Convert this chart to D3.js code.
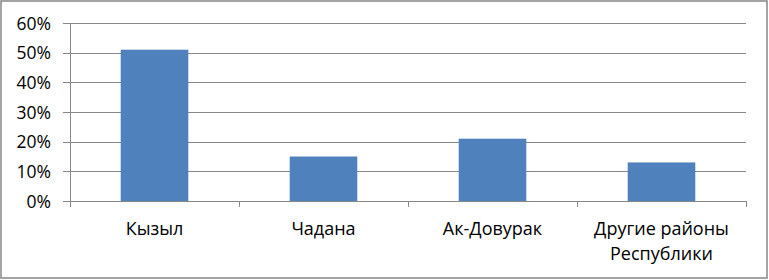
<!DOCTYPE html>
<html lang="ru">
<head>
    <meta charset="UTF-8">
    <script src="https://cdn.jsdelivr.net/npm/d3@7"></script>
    <style>
        body { margin: 0; background: #fff; }
        text { font-family: "Open Sans", "DejaVu Sans", sans-serif; fill: #000; }
    </style>
</head>
<body>
    <script>
        var categories = ["Кызыл", "Чадана", "Ак-Довурак", "Другие районы\nРеспублики"];
        var values = [0.51, 0.15, 0.21, 0.13];
        var yTicks = [0, 0.1, 0.2, 0.3, 0.4, 0.5, 0.6];

        var width = 769, height = 280;
        var margin = {top: 23, right: 23, bottom: 79, left: 70};

        var svg = d3.select("body").append("svg")
            .attr("width", width)
            .attr("height", height);

        svg.append("rect")
            .attr("x", 1).attr("y", 1)
            .attr("width", 766).attr("height", 277)
            .attr("fill", "#fff")
            .attr("stroke", "#868686")
            .attr("stroke-width", 1.5);

        var x = d3.scaleBand()
            .domain(categories)
            .range([margin.left, width - margin.right])
            .paddingInner(0.6)
            .paddingOuter(0.3);

        var y = d3.scaleLinear()
            .domain([0, 0.6])
            .range([height - margin.bottom, margin.top]);

        // gridlines
        svg.append("g")
            .selectAll("line")
            .data(yTicks)
            .enter().append("line")
            .attr("x1", margin.left - 7)
            .attr("x2", width - margin.right)
            .attr("y1", function (d) { return Math.round(y(d)) + 0.5; })
            .attr("y2", function (d) { return Math.round(y(d)) + 0.5; })
            .attr("stroke", "#888")
            .attr("stroke-width", 1.2);

        // y axis line
        svg.append("line")
            .attr("x1", margin.left + 0.5).attr("x2", margin.left + 0.5)
            .attr("y1", margin.top).attr("y2", y(0) + 0.5)
            .attr("stroke", "#888");

        // category ticks
        var step = (width - margin.right - margin.left) / categories.length;
        svg.append("g")
            .selectAll("line")
            .data(d3.range(categories.length + 1))
            .enter().append("line")
            .attr("x1", function (i) { return Math.round(margin.left + i * step) + 0.5; })
            .attr("x2", function (i) { return Math.round(margin.left + i * step) + 0.5; })
            .attr("y1", y(0))
            .attr("y2", y(0) + 6)
            .attr("stroke", "#888");

        svg.append("g")
            .selectAll("text")
            .data(yTicks)
            .enter().append("text")
            .attr("x", 51)
            .attr("y", function (d) { return y(d) + 6.5; })
            .attr("text-anchor", "end")
            .style("font-size", "17.5px")
            .text(function (d) { return Math.round(d * 100) + "%"; });

        svg.append("g")
            .selectAll("rect")
            .data(values)
            .enter().append("rect")
            .attr("x", function (d, i) { return x(categories[i]); })
            .attr("width", x.bandwidth())
            .attr("y", function (d) { return y(d); })
            .attr("height", function (d) { return y(0) - y(d); })
            .attr("fill", "#4f81bd");

        var labels = svg.append("g")
            .selectAll("text")
            .data(categories)
            .enter().append("text")
            .attr("text-anchor", "middle")
            .attr("x", function (d) { return x(d) + x.bandwidth() / 2; })
            .attr("y", 235)
            .style("font-size", "18px");

        labels.selectAll("tspan")
            .data(function (d) { return d.split("\n"); })
            .enter().append("tspan")
            .attr("x", function () { var p = d3.select(this.parentNode); return p.attr("x"); })
            .attr("dy", function (d, i) { return i === 0 ? 0 : 25; })
            .text(function (d) { return d; });
    </script>
</body>
</html>
